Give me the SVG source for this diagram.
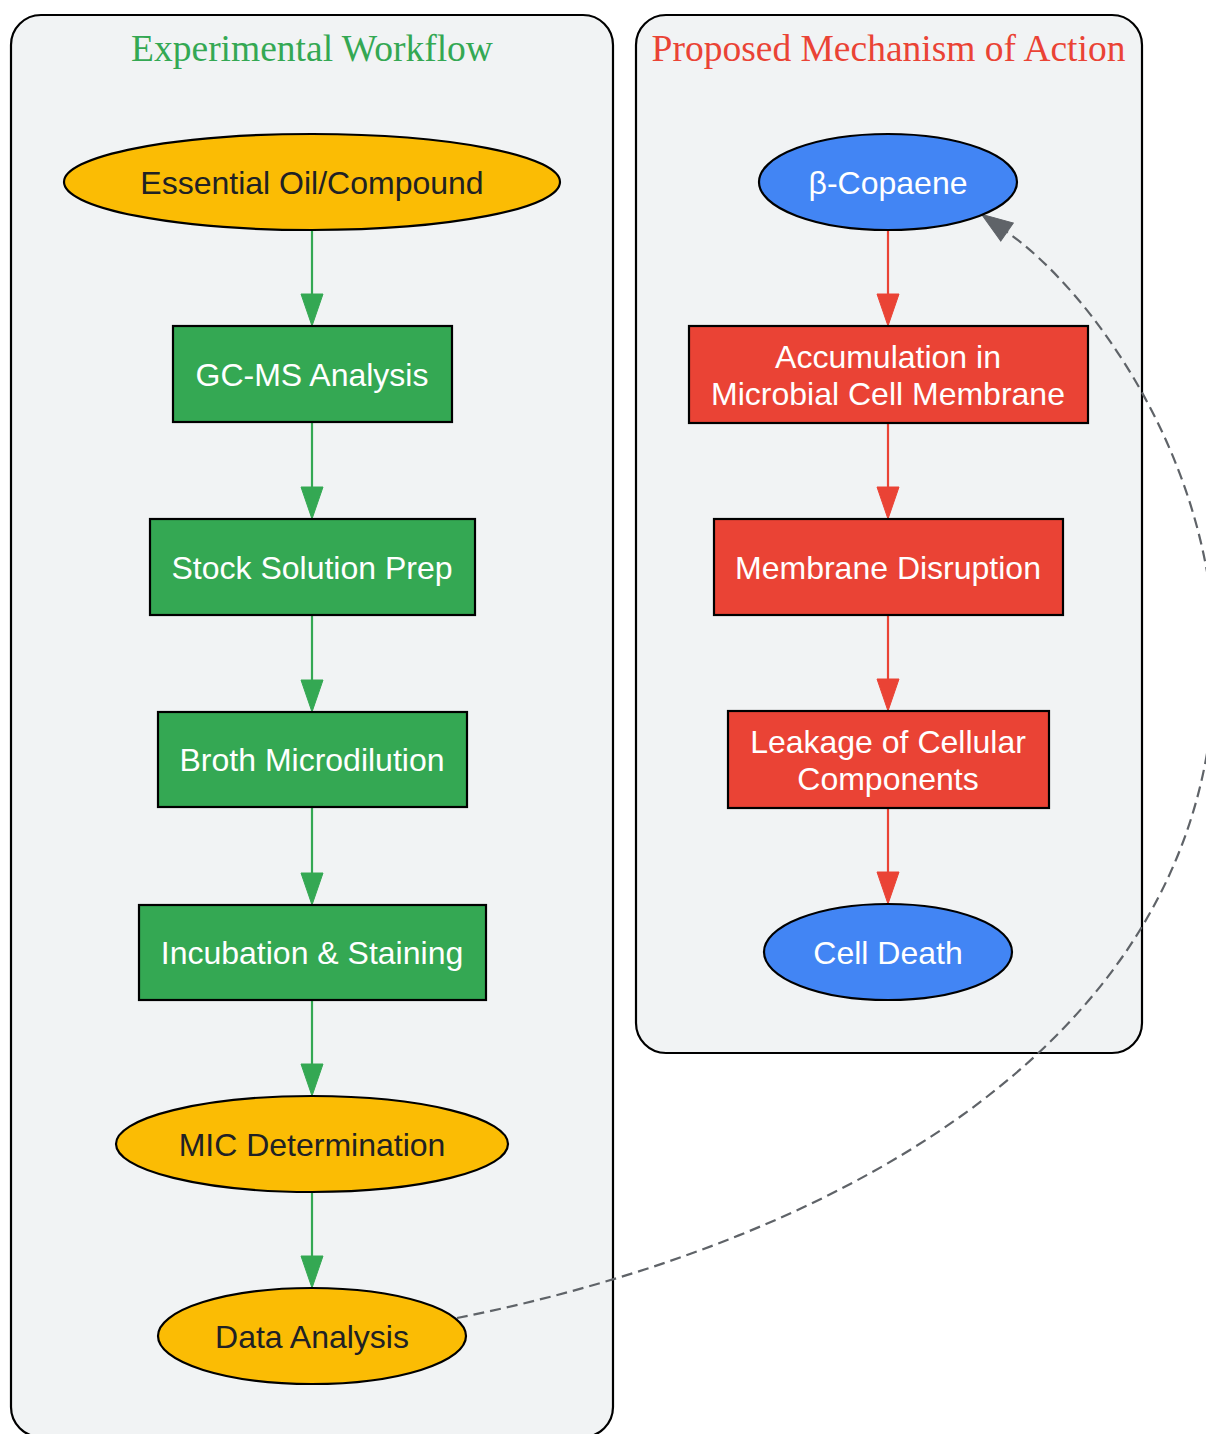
<svg xmlns="http://www.w3.org/2000/svg" width="1206" height="1434" viewBox="0 0 1206 1434">
<style>
.cluster{fill:#f1f3f4;stroke:#000;stroke-width:2.2}
.title{font-family:"Liberation Serif","Times New Roman",serif;font-size:37.5px;text-anchor:middle}
.lbl{font-family:"Liberation Sans",Arial,sans-serif;font-size:32px;text-anchor:middle}
.node{stroke:#000;stroke-width:2.2}
.yel{fill:#fbbc04}
.grn{fill:#34a853}
.red{fill:#ea4335}
.blu{fill:#4285f4}
.dark{fill:#202124}
.white{fill:#fff}
.eg{stroke:#34a853;stroke-width:2.2;fill:none}
.er{stroke:#ea4335;stroke-width:2.2;fill:none}
.ed{stroke:#5f6368;stroke-width:2.2;fill:none;stroke-dasharray:11,6}
</style>
<defs>
<marker id="ag" markerUnits="userSpaceOnUse" markerWidth="34" markerHeight="24" refX="0" refY="11" orient="auto" overflow="visible"><path d="M0,0 L32,11 L0,22 z" fill="#34a853" stroke="#34a853" stroke-width="1"/></marker>
<marker id="ar" markerUnits="userSpaceOnUse" markerWidth="34" markerHeight="24" refX="0" refY="11" orient="auto" overflow="visible"><path d="M0,0 L32,11 L0,22 z" fill="#ea4335" stroke="#ea4335" stroke-width="1"/></marker>
<marker id="ad" markerUnits="userSpaceOnUse" markerWidth="34" markerHeight="24" refX="0" refY="11" orient="auto" overflow="visible"><path d="M0,0 L31,11 L0,22 z" fill="#5f6368" stroke="#5f6368" stroke-width="1"/></marker>
</defs>
<rect width="1206" height="1434" fill="#fff"/>
<g id="cluster_workflow">
<rect class="cluster" x="11" y="15" width="602" height="1422" rx="30" ry="30"/>
<text class="title" x="312" y="61" fill="#34a853">Experimental Workflow</text>
</g>
<g id="cluster_mechanism">
<rect class="cluster" x="636" y="15" width="506" height="1038" rx="30" ry="30"/>
<text class="title" x="888.5" y="61" fill="#ea4335">Proposed Mechanism of Action</text>
</g>
<g id="connectors">
<path class="eg" d="M312,230 L312,294" marker-end="url(#ag)"/>
<path class="eg" d="M312,422 L312,487" marker-end="url(#ag)"/>
<path class="eg" d="M312,615 L312,680" marker-end="url(#ag)"/>
<path class="eg" d="M312,807 L312,873" marker-end="url(#ag)"/>
<path class="eg" d="M312,1000 L312,1064" marker-end="url(#ag)"/>
<path class="eg" d="M312,1192 L312,1256" marker-end="url(#ag)"/>
<path class="er" d="M888,230 L888,294" marker-end="url(#ar)"/>
<path class="er" d="M888,423 L888,487" marker-end="url(#ar)"/>
<path class="er" d="M888,615 L888,679" marker-end="url(#ar)"/>
<path class="er" d="M888,808 L888,872" marker-end="url(#ar)"/>
<path class="ed" d="M457,1318 C800,1250 1215,1060 1215,660 C1215,460 1090,290 1007,232" marker-end="url(#ad)"/>
</g>
<g id="n_oil">
<ellipse class="node yel" cx="312" cy="182" rx="248" ry="48"/>
<text class="lbl dark" x="312" y="193.5">Essential Oil/Compound</text>
</g>
<g id="n_gcms">
<rect class="node grn" x="173" y="326" width="279" height="96"/>
<text class="lbl white" x="312" y="385.5">GC-MS Analysis</text>
</g>
<g id="n_stock">
<rect class="node grn" x="150" y="519" width="325" height="96"/>
<text class="lbl white" x="312" y="578.5">Stock Solution Prep</text>
</g>
<g id="n_broth">
<rect class="node grn" x="158" y="712" width="309" height="95"/>
<text class="lbl white" x="312" y="771">Broth Microdilution</text>
</g>
<g id="n_incub">
<rect class="node grn" x="139" y="905" width="347" height="95"/>
<text class="lbl white" x="312" y="964">Incubation &amp; Staining</text>
</g>
<g id="n_mic">
<ellipse class="node yel" cx="312" cy="1144" rx="196" ry="48"/>
<text class="lbl dark" x="312" y="1155.5">MIC Determination</text>
</g>
<g id="n_data">
<ellipse class="node yel" cx="312" cy="1336" rx="154" ry="48"/>
<text class="lbl dark" x="312" y="1347.5">Data Analysis</text>
</g>
<g id="n_copaene">
<ellipse class="node blu" cx="888" cy="182" rx="129" ry="48"/>
<text class="lbl white" x="888" y="193.5">β-Copaene</text>
</g>
<g id="n_accum">
<rect class="node red" x="689" y="326" width="399" height="97"/>
<text class="lbl white" x="888" y="367.5">Accumulation in</text>
<text class="lbl white" x="888" y="405">Microbial Cell Membrane</text>
</g>
<g id="n_disrupt">
<rect class="node red" x="714" y="519" width="349" height="96"/>
<text class="lbl white" x="888" y="578.5">Membrane Disruption</text>
</g>
<g id="n_leak">
<rect class="node red" x="728" y="711" width="321" height="97"/>
<text class="lbl white" x="888" y="752.5">Leakage of Cellular</text>
<text class="lbl white" x="888" y="790">Components</text>
</g>
<g id="n_death">
<ellipse class="node blu" cx="888" cy="952" rx="124" ry="48"/>
<text class="lbl white" x="888" y="963.5">Cell Death</text>
</g>
</svg>
